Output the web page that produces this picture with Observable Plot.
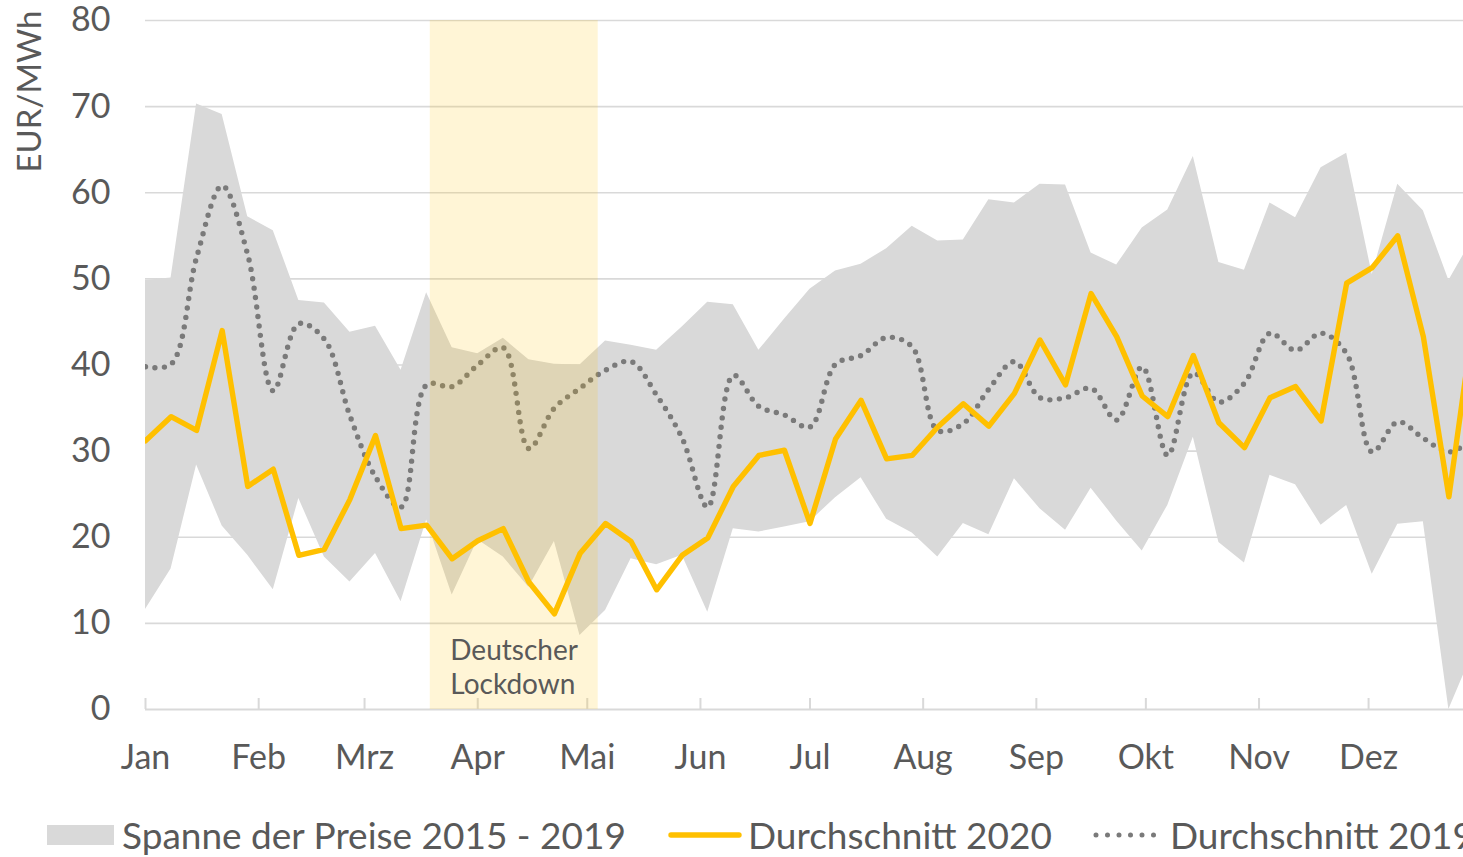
<!DOCTYPE html>
<html><head><meta charset="utf-8">
<script src="https://cdn.jsdelivr.net/npm/d3@7"></script>
<script src="https://cdn.jsdelivr.net/npm/@observablehq/plot@0.6"></script>
<style>
html,body{margin:0;padding:0;background:#fff;overflow:hidden;width:1463px;height:857px}
#chart{position:relative;width:1463px;height:857px;font-family:Lato,sans-serif;color:#595959;overflow:hidden}
.legend{position:absolute;top:790px;left:0;width:1463px;height:67px}
.item{position:absolute;top:0;height:67px;display:flex;align-items:center;white-space:nowrap;font-size:37px;line-height:1;color:#595959;padding-top:22px;box-sizing:border-box}
.item span{line-height:1}
.item svg{display:block}
</style></head>
<body><div id="chart"></div>
<script>
// ---- data (weekly, 2020) ----
const monthLabels = ["Jan","Feb","Mrz","Apr","Mai","Jun","Jul","Aug","Sep","Okt","Nov","Dez"];
const yTicks = [0,10,20,30,40,50,60,70,80];
const yLabel = "EUR/MWh";
const spanHigh = [49.8,50.1,70.3,69.1,57.2,55.6,47.5,47.2,43.8,44.5,
  39.4,48.4,42.0,41.3,43.1,40.6,40.1,40.0,42.8,42.3,
  41.7,44.4,47.3,47.0,41.7,45.3,48.8,50.9,51.7,53.5,
  56.1,54.4,54.5,59.2,58.8,61.0,60.9,53.0,51.6,55.9,
  58.0,64.2,51.9,51.0,58.8,57.1,62.9,64.6,50.5,61.0,
  57.9,49.8,55.0];
const spanLow = [11.6,16.3,28.4,21.3,17.9,13.9,24.5,17.7,14.8,18.1,
  12.5,22.0,13.3,19.7,17.7,14.2,19.5,8.6,11.5,17.5,
  16.8,17.9,11.3,21.0,20.6,21.2,21.8,24.6,26.9,22.1,
  20.5,17.7,21.6,20.3,26.8,23.3,20.8,25.7,21.9,18.4,
  23.7,31.6,19.4,17.0,27.2,26.1,21.4,23.7,15.7,21.5,
  21.8,0,7];
const avg2020 = [31.2,34.0,32.4,44.0,25.9,27.9,17.9,18.6,24.4,31.8,
  21.0,21.4,17.5,19.6,21.0,14.8,11.1,18.1,21.6,19.5,
  13.9,17.9,19.9,25.9,29.5,30.1,21.6,31.4,35.9,29.1,
  29.5,32.8,35.5,32.9,36.7,42.9,37.7,48.3,43.3,36.4,
  34.0,41.1,33.3,30.4,36.2,37.5,33.5,49.5,51.3,55.0,
  43.3,24.7,46];
const avg2019 = [39.8,40.1,52.5,60.8,52.8,37.0,44.8,43.0,34.1,27.0,
  23.5,37.7,37.5,40.0,42.0,30.3,35.0,37.3,39.4,40.4,
  36.5,31.5,23.5,38.8,35.2,34.2,32.8,40.1,41.1,43.2,
  42.1,32.4,33.2,37.2,40.4,36.2,36.2,37.3,33.6,39.8,
  29.5,39.1,35.7,37.9,43.7,41.7,43.7,41.3,29.9,33.4,
  31.5,29.9,31.5];
const lockdown = [{start:"2020-03-19", end:"2020-05-04", label:"Deutscher\nLockdown"}];
const legendLabels = ["Spanne der Preise 2015 - 2019","Durchschnitt 2020","Durchschnitt 2019"];

// ---- build table ----
const firstWeek = Date.UTC(2020,0,1);
const weeks = spanLow.map((_, i) => new Date(firstWeek + i * 7 * 864e5));
const table = weeks.map((date, i) => ({date, low: spanLow[i], high: spanHigh[i], v2020: avg2020[i], v2019: avg2019[i]}));
const monthStarts = d3.utcMonths(new Date(Date.UTC(2020,0,1)), new Date(Date.UTC(2021,0,1)));

const grey = "#d9d9d9", txt = "#595959", gold = "#ffc000", dots = "#7a7a7a";

const plot = Plot.plot({
  width: 1463, height: 790,
  marginTop: 20, marginBottom: 81, marginLeft: 145, marginRight: 0,
  style: {fontFamily: "Lato, sans-serif", fontSize: "34px", color: txt, background: "white", overflow: "visible"},
  x: {type: "utc", domain: [new Date(Date.UTC(2020,0,1)), new Date(Date.UTC(2020,11,27))]},
  y: {domain: [0, 80]},
  marks: [
    Plot.gridY(yTicks.filter(d => d > 0), {stroke: grey, strokeOpacity: 1, strokeWidth: 1.6}),
    Plot.areaY(table, {x: "date", y1: "low", y2: "high", fill: grey, clip: true}),
    Plot.ruleY([0], {stroke: grey, strokeWidth: 2}),
    Plot.tickX(monthStarts, {x: d => d, stroke: grey, strokeWidth: 2, insetTop: 678}),
    Plot.lineY(table, {x: "date", y: "v2019", curve: "catmull-rom", stroke: dots, strokeWidth: 5.4,
      strokeDasharray: "0 9.5", strokeLinecap: "round", clip: true}),
    Plot.lineY(table, {x: "date", y: "v2020", stroke: gold, strokeWidth: 5.4, strokeLinejoin: "round", clip: true}),
    Plot.rectX(lockdown, {x1: d => new Date(d.start), x2: d => new Date(d.end), fill: gold, fillOpacity: 0.16}),
    Plot.text(lockdown, {x: d => new Date(d.start), frameAnchor: "bottom", text: "label", textAnchor: "start",
      lineAnchor: "bottom", dx: 20, dy: -16, fontSize: 28, fill: txt, lineHeight: 1.2}),
    Plot.axisY({ticks: yTicks, tickSize: 0, tickPadding: 35, label: null, fontSize: 34, fill: txt}),
    Plot.axisX({ticks: monthStarts, tickSize: 0, tickPadding: 35, label: null, fontSize: 34, fill: txt,
      tickFormat: d => monthLabels[d.getUTCMonth()]}),
    Plot.text([yLabel], {frameAnchor: "top-left", text: d => d, rotate: -90, textAnchor: "end",
      lineAnchor: "middle", dx: -115, dy: -10, fontSize: 33, fill: txt})
  ]
});

const chart = document.getElementById("chart");
chart.appendChild(plot);

const legend = document.createElement("div");
legend.className = "legend";
legend.innerHTML = `
  <div class="item" style="left:47px"><svg width="67" height="20"><rect width="67" height="20" fill="${grey}"/></svg><span style="margin-left:8px">${legendLabels[0]}</span></div>
  <div class="item" style="left:668px"><svg width="74" height="10"><line x1="3" x2="71" y1="5" y2="5" stroke="${gold}" stroke-width="5.4" stroke-linecap="round"/></svg><span style="margin-left:6px">${legendLabels[1]}</span></div>
  <div class="item" style="left:1092px"><svg width="70" height="10"><line x1="4" x2="66" y1="5" y2="5" stroke="${dots}" stroke-width="5" stroke-dasharray="0 11.5" stroke-linecap="round"/></svg><span style="margin-left:8px">${legendLabels[2]}</span></div>`;
chart.appendChild(legend);
</script>
</body></html>
